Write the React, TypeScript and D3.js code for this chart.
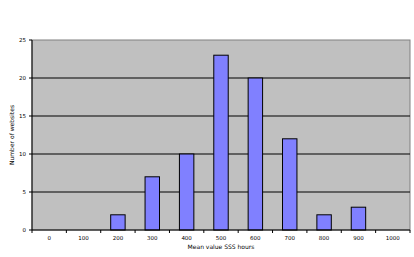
import React from "react";
import * as d3 from "d3";

const categories = ["0", "100", "200", "300", "400", "500", "600", "700", "800", "900", "1000"];
const counts = [0, 0, 2, 7, 10, 23, 20, 12, 2, 3, 0];
const yTicks = [0, 5, 10, 15, 20, 25];
const xTitle = "Mean value SSS hours";
const yTitle = "Number of websites";

export default function App() {
  const W = 414, H = 257;
  const left = 32, right = 410, top = 40, bottom = 230;
  const x = d3.scaleBand<string>().domain(categories).range([left, right]).paddingInner(0).paddingOuter(0);
  const y = d3.scaleLinear().domain([0, 25]).range([bottom, top]);
  const bw = x.bandwidth();
  const barW = bw * 0.42;
  const font = "'DejaVu Sans', Verdana, sans-serif";
  return (
    <svg width={W} height={H} style={{ position: "absolute", left: 0, top: 0, background: "#fff" }}>
      <rect x={left} y={top} width={right - left} height={bottom - top} fill="#c0c0c0" stroke="#808080" strokeWidth={1} />
      {yTicks.filter((t) => t > 0 && t < 25).map((t) => (
        <line key={t} x1={left} x2={right} y1={y(t)} y2={y(t)} stroke="#000" strokeWidth={1} />
      ))}
      {categories.map((c, i) => (
        <rect
          key={c}
          x={(x(c) as number) + bw / 2 - barW / 2}
          y={y(counts[i])}
          width={barW}
          height={bottom - y(counts[i])}
          fill="#8080ff"
          stroke="#000"
          strokeWidth={1}
          visibility={counts[i] > 0 ? "visible" : "hidden"}
        />
      ))}
      <line x1={left} x2={left} y1={top} y2={bottom} stroke="#000" strokeWidth={1} />
      <line x1={left} x2={right} y1={bottom} y2={bottom} stroke="#000" strokeWidth={1} />
      {yTicks.map((t) => (
        <g key={t}>
          <line x1={left - 3} x2={left} y1={y(t)} y2={y(t)} stroke="#000" />
          <text x={left - 6} y={y(t)} dy="0.35em" textAnchor="end" fontSize={5.5} fontFamily={font} fill="#000">
            {t}
          </text>
        </g>
      ))}
      {categories.map((c, i) => (
        <g key={c}>
          <line x1={(x(c) as number) + bw} x2={(x(c) as number) + bw} y1={bottom} y2={bottom + 3} stroke="#000" />
          {i === 0 && <line x1={left} x2={left} y1={bottom} y2={bottom + 3} stroke="#000" />}
          <text x={(x(c) as number) + bw / 2} y={238} dy="0.35em" textAnchor="middle" fontSize={5.5} fontFamily={font} fill="#000">
            {c}
          </text>
        </g>
      ))}
      <text x={(left + right) / 2} y={247} dy="0.35em" textAnchor="middle" fontSize={6} fontFamily={font} fill="#000">
        {xTitle}
      </text>
      <text transform={`translate(12,${(top + bottom) / 2}) rotate(-90)`} dy="0.35em" textAnchor="middle" fontSize={6} fontFamily={font} fill="#000">
        {yTitle}
      </text>
    </svg>
  );
}
